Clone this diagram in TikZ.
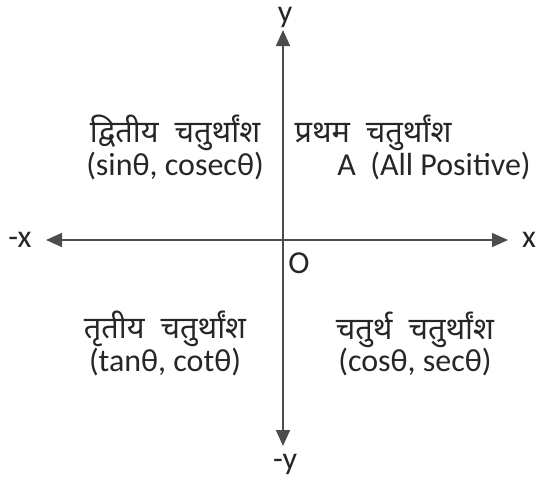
\documentclass[tikz,border=0pt]{standalone}
\usepackage{fontspec}
\usetikzlibrary{arrows.meta}
\setmainfont{Carlito}
\newfontfamily\devfont[Script=Devanagari,Scale=0.96]{Noto Sans}

\begin{document}
\begin{tikzpicture}[x=0.5pt, y=-0.5pt, every node/.style={inner sep=0pt, font=\fontsize{16}{18}\selectfont, text=black!85}]
        \useasboundingbox (0,0) rectangle (536,477);
        % Define the axis ends
        \coordinate (XL) at (46,240);
        \coordinate (XR) at (508,240);
        \coordinate (YT) at (283,30);
        \coordinate (YB) at (283,446);

        % Axis labels
        \node (x) at (529,240) {x};
        \node (mx) at (20,240) {-x};
        \node (y) at (285,17) {y};
        \node (my) at (285,464) {-y};
        \node (O) at (299,263) {O};

        % Quadrants
        \node (Q1) at (373,133) {\devfont प्रथम\ \ चतुर्थांश};
        \node (Q1b) at (434,166) {A\ \ (All Positive)};
        \node (Q2) at (175,133) {\devfont द्वितीय\ \ चतुर्थांश};
        \node (Q2b) at (175,166) {(sinθ, cosecθ)};
        \node (Q3) at (165,329) {\devfont तृतीय\ \ चतुर्थांश};
        \node (Q3b) at (165,362) {(tanθ, cotθ)};
        \node (Q4) at (415,330) {\devfont चतुर्थ\ \ चतुर्थांश};
        \node (Q4b) at (415,362) {(cosθ, secθ)};

        \begin{scope}[line width=0.75pt, draw=black!70, {Triangle[length=8pt,width=7pt]}-{Triangle[length=8pt,width=7pt]}]
        \draw (XL) -- (XR);
        \draw (YB) -- (YT);
        \end{scope}
    \end{tikzpicture}
\end{document}
